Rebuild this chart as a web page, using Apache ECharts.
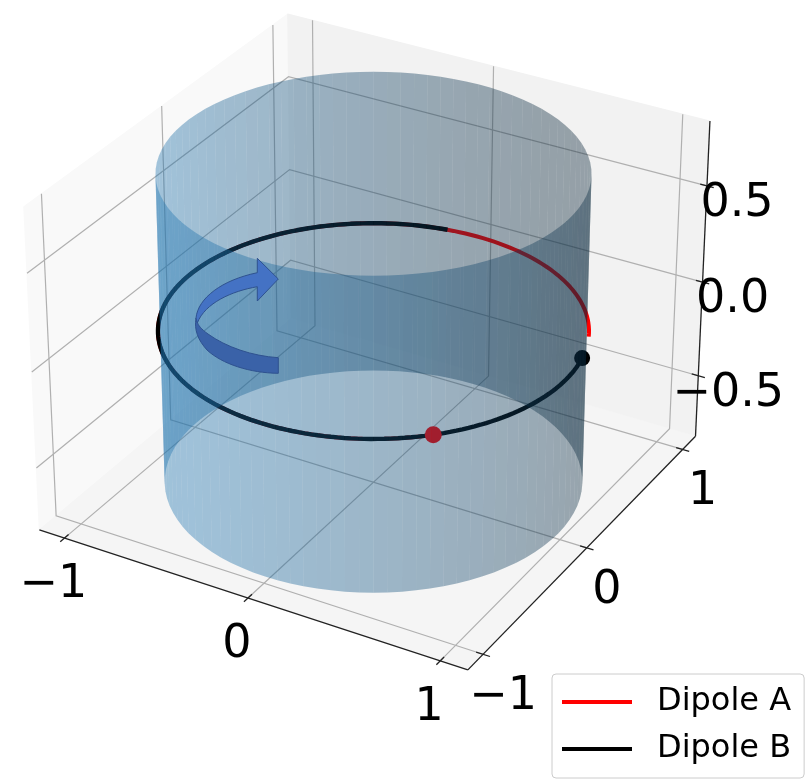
<!DOCTYPE html>
<html><head><meta charset="utf-8">
<style>html,body{margin:0;padding:0;background:#fff}#c{width:808px;height:781px;filter:blur(0.5px)}</style>
<script src="https://cdn.jsdelivr.net/npm/echarts@6/dist/echarts.min.js"></script>
</head><body><div id="c"></div>
<script>
// ---- values ----
const xTicks = [-1, 0, 1];
const yTicks = [-1, 0, 1];
const zTicks = [-0.5, 0, 0.5];
const xTickLabels = ['\u22121', '0', '1'];
const yTickLabels = ['\u22121', '0', '1'];
const zTickLabels = ['\u22120.5', '0.0', '0.5'];
const cylinderRadius = [0.99];
const cylinderZ = [-0.8, 0.8];
const ringRadius = [1];
const ringZ = [0];
const dipoleAArcDeg = [-44.6, -335.5];   // start (dot) -> end, degrees about z
const dipoleBArcDeg = [13, -261];
const legendNames = ['Dipole A', 'Dipole B'];

// ---- camera (matplotlib mplot3d default view) ----
const ELEV = 30 * Math.PI / 180, AZIM = -60 * Math.PI / 180, DIST = 10;
const HALF = [0.595, 0.595, 0.4465], LIM = [1.14, 1.14, 0.83];
const DIR = [Math.cos(ELEV) * Math.cos(AZIM), Math.cos(ELEV) * Math.sin(AZIM), Math.sin(ELEV)];
const RIGHT = [-Math.sin(AZIM), Math.cos(AZIM), 0];
const UP = [-Math.sin(ELEV) * Math.cos(AZIM), -Math.sin(ELEV) * Math.sin(AZIM), Math.cos(ELEV)];
const dot = (a, b) => a[0] * b[0] + a[1] * b[1] + a[2] * b[2];
function view(p) { return [0, 1, 2].map(i => p[i] / LIM[i] * HALF[i]); }
function project(p) {
  const d = view(p), depth = DIST - dot(d, DIR);
  return [dot(d, RIGHT) / depth, dot(d, UP) / depth];
}
const W = 808, H = 781, SX = 4125, SY = 4125, OX = 373.5, OY = 326.2;
const xr = LIM[0], yr = LIM[1], zr = LIM[2];

// ---- scene pieces, all in data space ----
function arc(range, z) {
  const n = 160, out = [];
  for (let i = 0; i <= n; i++) {
    const t = (range[0] + (range[1] - range[0]) * i / n) * Math.PI / 180;
    out.push(project([ringRadius[0] * Math.cos(t), ringRadius[0] * Math.sin(t), z]));
  }
  return out;
}
const polar = (deg, z) => project([ringRadius[0] * Math.cos(deg * Math.PI / 180), ringRadius[0] * Math.sin(deg * Math.PI / 180), z]);

const panes = [
  { c: '#f9f9f9', q: [[-xr,-yr,-zr],[-xr,yr,-zr],[-xr,yr,zr],[-xr,-yr,zr]] },
  { c: '#f2f2f2', q: [[-xr,yr,-zr],[xr,yr,-zr],[xr,yr,zr],[-xr,yr,zr]] },
  { c: '#f5f5f5', q: [[-xr,-yr,-zr],[xr,-yr,-zr],[xr,yr,-zr],[-xr,yr,-zr]] }
];
const gridLines = [];
xTicks.forEach(x => gridLines.push([[x,-yr,-zr],[x,yr,-zr],[x,yr,zr]]));
yTicks.forEach(y => gridLines.push([[xr,y,-zr],[-xr,y,-zr],[-xr,y,zr]]));
zTicks.forEach(z => gridLines.push([[-xr,-yr,z],[-xr,yr,z],[xr,yr,z]]));
const axisLines = [
  [[-xr,-yr,-zr],[xr,-yr,-zr]],
  [[xr,-yr,-zr],[xr,yr,-zr]],
  [[xr,yr,-zr],[xr,yr,zr]]
];
const tk = 0.035;
const tickLines = [];
xTicks.forEach(x => tickLines.push([[x,-yr-tk,-zr],[x,-yr+tk,-zr]]));
yTicks.forEach(y => tickLines.push([[xr-tk,y,-zr],[xr+tk,y,-zr]]));
zTicks.forEach(z => tickLines.push([[xr-tk,yr,z],[xr+tk,yr,z]]));

const labels = [];
xTicks.forEach((x,i) => labels.push({ t: xTickLabels[i], p: [x,-yr,-zr], o: [-11, 47] }));
yTicks.forEach((y,i) => labels.push({ t: yTickLabels[i], p: [xr,y,-zr], o: [20, 43] }));
zTicks.forEach((z,i) => labels.push({ t: zTickLabels[i], p: [xr,yr,z], o: [30, 18] }));

// wall facets, farthest first, shaded like mplot3d's LightSource(225, 19.47)
const facets = [];
const FN = 96, LIGHT = [-0.667, -0.667, 0.333], BASE = [31, 119, 180];
for (let i = 0; i < FN; i++) {
  const a = i * 360 / FN, b = (i + 1) * 360 / FN, m = (a + b) / 2 * Math.PI / 180;
  const n = [Math.cos(m), Math.sin(m), 0];
  const shade = 0.3 + 0.35 * (dot(n, LIGHT) + 1);
  facets.push({ a, b, depth: dot(n, DIR), col: BASE.map(v => Math.round(v * shade)) });
}
facets.sort((p, q) => p.depth - q.depth);

function coords(api, pts) { return pts.map(p => api.coord(project(p))); }

const arrowPaths = [
  { d: 'M196 318 C194 330 198 340 207 350 C222 364 250 373 278.3 373.3 L278.3 357.7 C252 356 226 347 208 334 C201 329 198 325 197.3 322 Z', fill: '#3a62a8' },
  { d: 'M196 318 C198 298 222 280 257.3 272.7 L257.3 258.3 L278.3 279 L257.3 301 L257.3 286.7 C232 291 205 303 197.3 323 Z', fill: '#4472c4' }
];

const chart = echarts.init(document.getElementById('c'), null, { renderer: 'canvas', width: W, height: H });
chart.setOption({
  animation: false,
  backgroundColor: '#fff',
  grid: { left: 0, right: 0, top: 0, bottom: 0, containLabel: false },
  xAxis: { type: 'value', show: false, min: -OX / SX, max: (W - OX) / SX, scale: true },
  yAxis: { type: 'value', show: false, min: (OY - H) / SY, max: OY / SY, scale: true },
  legend: {
    orient: 'vertical', left: 552, top: 674, padding: [9, 13, 10, 10],
    data: legendNames, icon: 'rect', itemWidth: 70, itemHeight: 4, itemGap: 9,
    backgroundColor: '#fff', borderColor: '#ccc', borderWidth: 1, borderRadius: 4,
    textStyle: { fontFamily: 'DejaVu Sans', fontSize: 32, color: '#000', padding: [0, 0, 0, 20], lineHeight: 38 },
    selectedMode: false, z: 20
  },
  tooltip: { show: false },
  series: [
    { type: 'custom', name: 'panes', coordinateSystem: 'cartesian2d', z: 1, silent: true, clip: false, data: panes.map((_, i) => i),
      renderItem: (p, api) => { const s = panes[api.value(0)]; return { type: 'polygon', shape: { points: coords(api, s.q) }, style: { fill: s.c, stroke: s.c } }; } },
    { type: 'custom', name: 'grid', coordinateSystem: 'cartesian2d', z: 1.1, silent: true, clip: false, data: gridLines.map((_, i) => i),
      renderItem: (p, api) => ({ type: 'polyline', shape: { points: coords(api, gridLines[api.value(0)]) }, style: { fill: 'none', stroke: '#b0b0b0', lineWidth: 1.2 } }) },
    { type: 'custom', name: 'axes', coordinateSystem: 'cartesian2d', z: 1.2, silent: true, clip: false, data: axisLines.concat(tickLines).map((_, i) => i),
      renderItem: (p, api) => ({ type: 'polyline', shape: { points: coords(api, axisLines.concat(tickLines)[api.value(0)]) }, style: { fill: 'none', stroke: '#222', lineWidth: 1.3 } }) },
    { type: 'line', name: 'Dipole A', data: arc(dipoleAArcDeg, ringZ[0]), z: 2, showSymbol: false, silent: true, clip: false,
      lineStyle: { color: 'red', width: 4 }, itemStyle: { color: 'red' } },
    { type: 'line', name: 'Dipole B', data: arc(dipoleBArcDeg, ringZ[0]), z: 2.1, showSymbol: false, silent: true, clip: false,
      lineStyle: { color: 'black', width: 4.4 }, itemStyle: { color: 'black' } },
    { type: 'scatter', name: 'A start', data: [polar(dipoleAArcDeg[0], ringZ[0])], z: 2.2, symbolSize: 17, silent: true, clip: false, itemStyle: { color: 'red', opacity: 1 } },
    { type: 'scatter', name: 'B start', data: [polar(dipoleBArcDeg[0], ringZ[0])], z: 2.2, symbolSize: 16, silent: true, clip: false, itemStyle: { color: 'black', opacity: 1 } },
    { type: 'custom', name: 'cylinder', coordinateSystem: 'cartesian2d', z: 3, silent: true, clip: false, data: facets.map((_, i) => i),
      renderItem: (p, api) => {
        const f = facets[api.value(0)], r = cylinderRadius[0];
        const c = d => [r * Math.cos(d * Math.PI / 180), r * Math.sin(d * Math.PI / 180)];
        const A = c(f.a), B = c(f.b);
        return { type: 'polygon', shape: { points: coords(api, [[A[0],A[1],cylinderZ[0]],[B[0],B[1],cylinderZ[0]],[B[0],B[1],cylinderZ[1]],[A[0],A[1],cylinderZ[1]]]) },
          style: { fill: `rgba(${f.col[0]},${f.col[1]},${f.col[2]},0.4)` } };
      } },
    { type: 'custom', name: 'labels', coordinateSystem: 'cartesian2d', z: 4, silent: true, clip: false, data: labels.map((_, i) => i),
      renderItem: (p, api) => {
        const l = labels[api.value(0)], c = api.coord(project(l.p));
        return { type: 'text', x: c[0] + l.o[0], y: c[1] + l.o[1], style: { text: l.t, fill: '#000', font: '46px "DejaVu Sans"', align: 'center', verticalAlign: 'middle' } };
      } },
    { type: 'custom', name: 'arrow', coordinateSystem: 'cartesian2d', z: 5, silent: true, clip: false, data: arrowPaths.map((_, i) => i),
      renderItem: (p, api) => {
        const a = arrowPaths[api.value(0)];
        return { type: 'path', shape: { pathData: a.d }, style: { fill: a.fill, stroke: '#2f528f', lineWidth: 1 } };
      } }
  ]
});
</script></body></html>
